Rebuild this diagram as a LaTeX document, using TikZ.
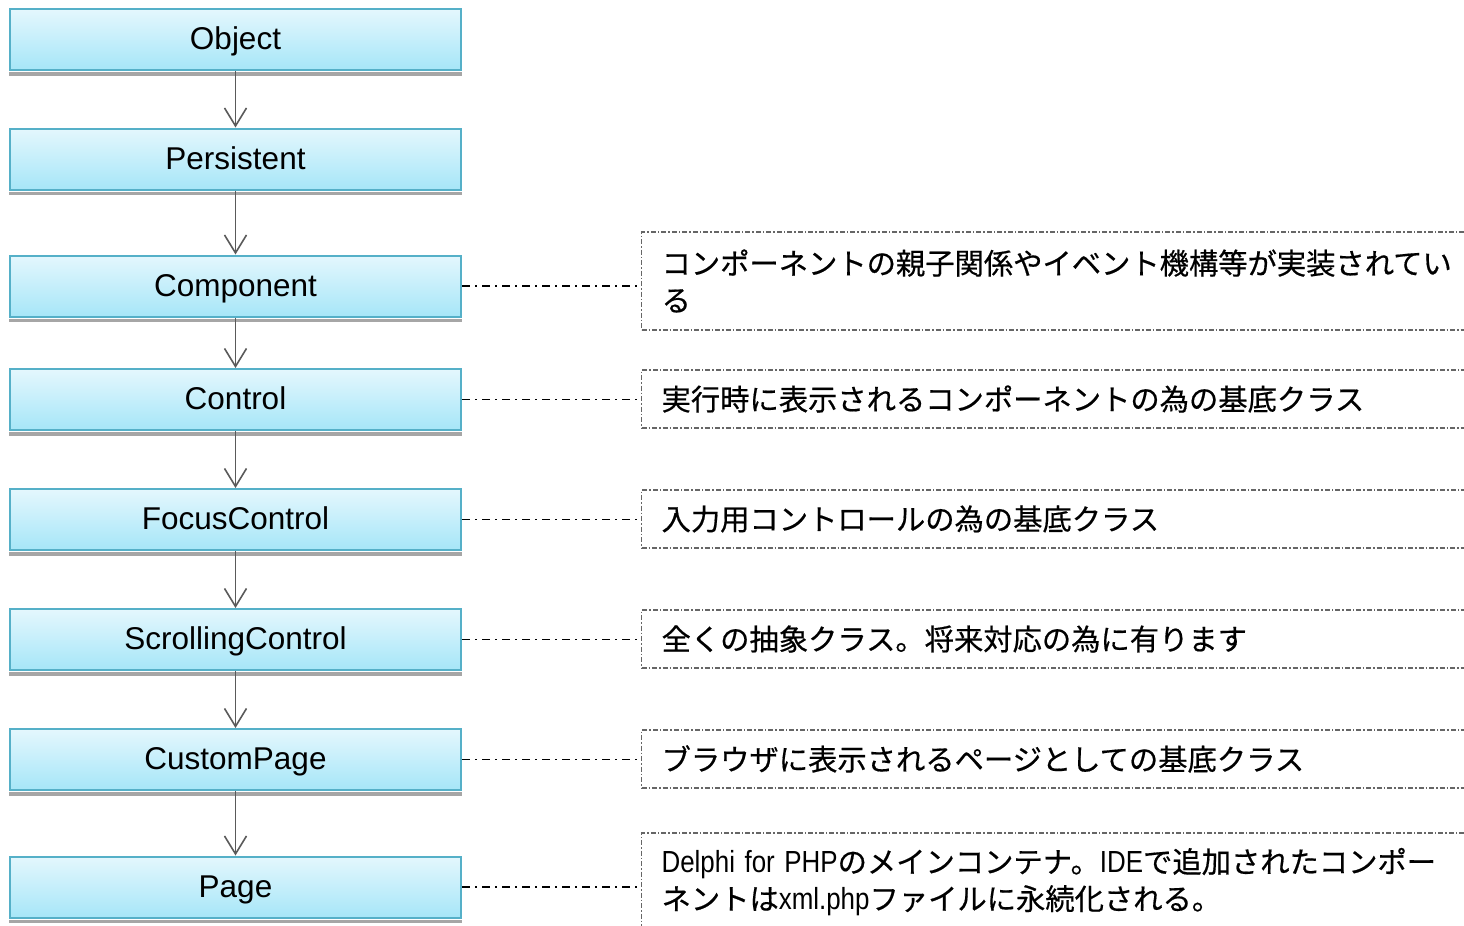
\documentclass[tikz,border=0pt]{standalone}
\usepackage{fontspec}
\setmainfont{Liberation Sans}
\newfontfamily\jpfont[FakeBold=0.5]{Noto Sans CJK JP}
\newfontfamily\latnote[FakeStretch=0.85]{Liberation Sans}
\usetikzlibrary{arrows.meta}
\newcommand\J[1]{{\jpfont\fontsize{29.3}{37}\selectfont #1}}
\newcommand\Lt[1]{{\latnote\fontsize{30.5}{37}\selectfont #1}}
\definecolor{boxtop}{HTML}{E4F7FD}
\definecolor{boxbot}{HTML}{A6E6F8}
\definecolor{boxline}{HTML}{55B0C8}
\definecolor{arrowc}{HTML}{5A5A5A}
\tikzset{
  cls/.style={rectangle, draw=boxline, line width=2pt, top color=boxtop, bottom color=boxbot,
    minimum width=451pt, minimum height=61pt, inner sep=0pt, text height=26pt, text depth=6pt,
    font=\fontsize{31.5}{36}\selectfont},
  inh/.style={draw=arrowc, line width=1.6pt, -{Straight Barb[length=18pt,width=22pt,line width=1.6pt]}},
  note/.style={rectangle, draw=black!60, line width=1.2pt, dash pattern=on 5pt off 2pt on 1.5pt off 2pt,
    anchor=west, minimum width=840pt, inner xsep=17pt, inner ysep=0pt, text width=800pt, align=left,
    font=\fontsize{28.5}{37}\selectfont},
  link/.style={draw=black, line width=1.2pt, dash pattern=on 8pt off 5pt on 2pt off 5pt},
  shadowband/.style={fill=black!35}
}
\begin{document}
\begin{tikzpicture}[x=1pt,y=-1pt]
\useasboundingbox (0,0) rectangle (1464,926);
\clip (0,0) rectangle (1464,926);
% class boxes
\node[cls] (obj)  at (235.5,39.5) {Object};
\node[cls] (pers) at (235.5,159) {Persistent};
\node[cls] (comp) at (235.5,286) {Component};
\node[cls] (ctrl) at (235.5,399.5) {Control};
\node[cls] (focus) at (235.5,519.5) {FocusControl};
\node[cls] (scroll) at (235.5,639.5) {ScrollingControl};
\node[cls] (cpage) at (235.5,759.5) {CustomPage};
\node[cls] (page) at (235.5,887) {Page};
% shadows
\foreach \n in {obj,pers,comp,ctrl,focus,scroll,cpage,page}{
  \fill[shadowband] ([yshift=-1pt]\n.south west) rectangle ([yshift=-4.5pt]\n.south east);
}
% inheritance arrows
\draw[inh] (obj.south) -- (pers.north);
\draw[inh] (pers.south) -- (comp.north);
\draw[inh] (comp.south) -- (ctrl.north);
\draw[inh] (ctrl.south) -- (focus.north);
\draw[inh] (focus.south) -- (scroll.north);
\draw[inh] (scroll.south) -- (cpage.north);
\draw[inh] (cpage.south) -- (page.north);
% notes
\node[note, minimum height=98pt] (ncomp) at (641,281) {\J{コンポーネントの親子関係やイベント機構等が実装されてい}\\\J{る}};
\node[note, minimum height=58pt] (nctrl) at (641,399) {\J{実行時に表示されるコンポーネントの為の基底クラス}};
\node[note, minimum height=58pt] (nfocus) at (641,519) {\J{入力用コントロールの為の基底クラス}};
\node[note, minimum height=58pt] (nscroll) at (641,639) {\J{全くの抽象クラス。将来対応の為に有ります}};
\node[note, minimum height=58pt] (ncpage) at (641,759) {\J{ブラウザに表示されるページとしての基底クラス}};
\node[note, minimum height=98pt] (npage) at (641,882) {\Lt{Delphi for PHP}\J{のメインコンテナ。}\Lt{IDE}\J{で追加されたコンポー}\\\J{ネントは}\Lt{xml.php}\J{ファイルに永続化される。}};
% links
\draw[link] (comp.east) -- (comp.east -| ncomp.west);
\draw[link] (ctrl.east) -- (ctrl.east -| nctrl.west);
\draw[link] (focus.east) -- (focus.east -| nfocus.west);
\draw[link] (scroll.east) -- (scroll.east -| nscroll.west);
\draw[link] (cpage.east) -- (cpage.east -| ncpage.west);
\draw[link] (page.east) -- (page.east -| npage.west);
\end{tikzpicture}
\end{document}
